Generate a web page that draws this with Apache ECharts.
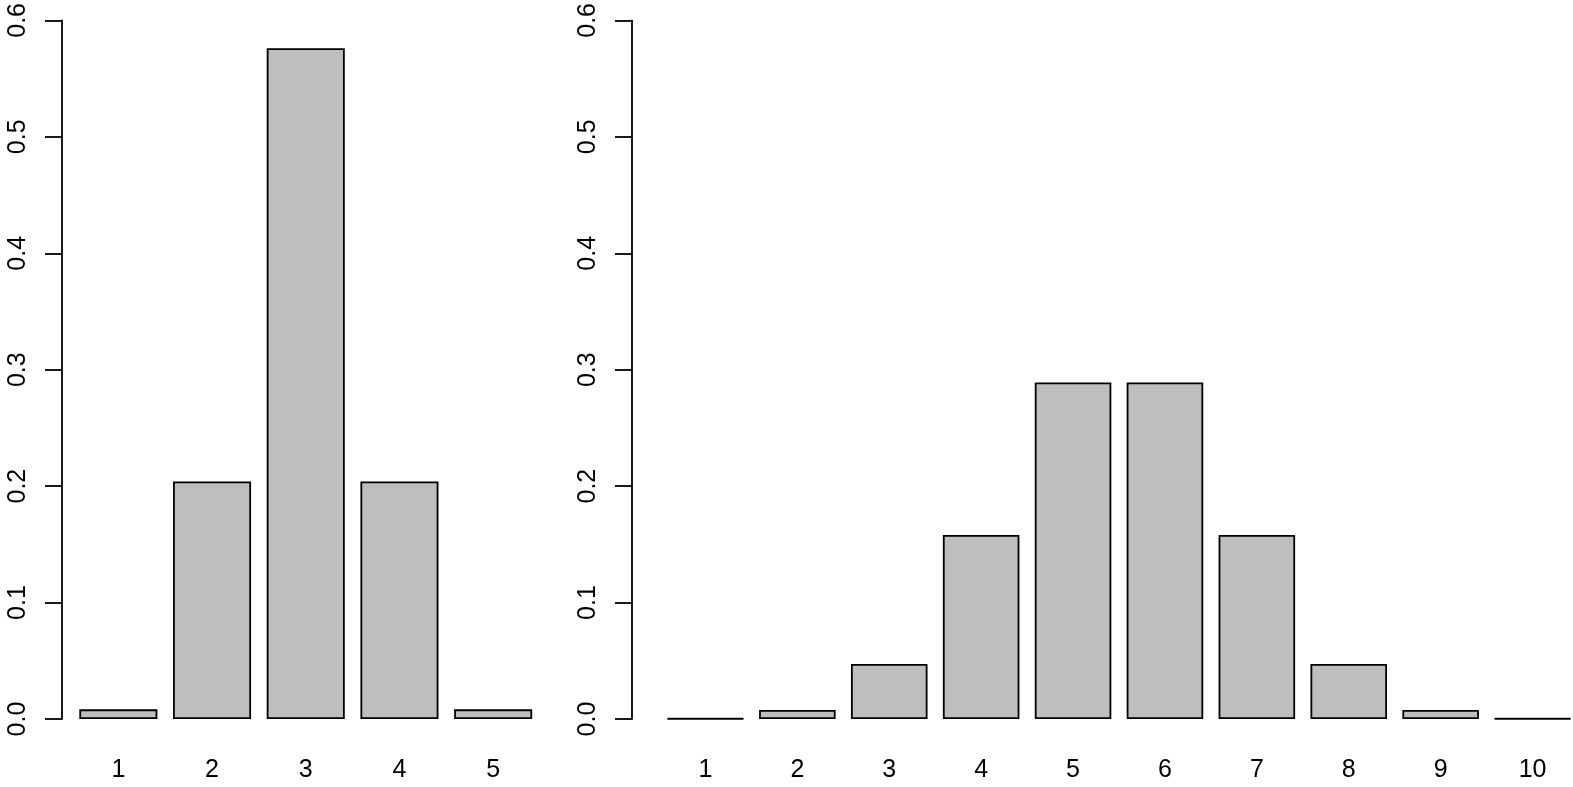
<!DOCTYPE html>
<html>
<head>
<meta charset="utf-8">
<script src="https://cdn.jsdelivr.net/npm/echarts@6/dist/echarts.min.js"></script>
<style>
  html, body { margin: 0; padding: 0; background: #fff; overflow: hidden; }
  #chart { width: 1580px; height: 787px; }
</style>
</head>
<body>
<div id="chart"></div>
<script>
// two barplots side by side, R base style
const leftCategories = ['1', '2', '3', '4', '5'];
const leftValues = [0.0083, 0.204, 0.576, 0.204, 0.0083];

const rightCategories = ['1', '2', '3', '4', '5', '6', '7', '8', '9', '10'];
const rightValues = [0.0004, 0.0077, 0.0473, 0.158, 0.289, 0.289, 0.158, 0.0473, 0.0077, 0.0004];

const yTicks = [0, 0.1, 0.2, 0.3, 0.4, 0.5, 0.6];

const font = 'Liberation Sans, Arial, sans-serif';

function xAxisFor(cats, gridIndex) {
    return {
        type: 'category',
        gridIndex: gridIndex,
        data: cats,
        boundaryGap: true,
        axisLine: { show: false },
        axisTick: { show: false },
        axisLabel: {
            color: '#000',
            fontSize: 25,
            fontFamily: font,
            margin: 39,
            interval: 0
        },
        splitLine: { show: false }
    };
}

function yAxisFor(gridIndex, offset) {
    return {
        type: 'value',
        gridIndex: gridIndex,
        min: yTicks[0],
        max: yTicks[yTicks.length - 1],
        interval: 0.1,
        offset: offset,
        axisLine: { show: true, lineStyle: { color: '#000', width: 1.8 } },
        axisTick: { show: true, length: 17, lineStyle: { color: '#000', width: 1.8 } },
        axisLabel: {
            color: '#000',
            fontSize: 25,
            fontFamily: font,
            rotate: 90,
            margin: 31,
            formatter: v => v.toFixed(1)
        },
        splitLine: { show: false }
    };
}

function barSeries(values, idx) {
    return {
        type: 'bar',
        xAxisIndex: idx,
        yAxisIndex: idx,
        data: values,
        barWidth: '83.3%',
        itemStyle: {
            color: '#bebebe',
            borderColor: '#000',
            borderWidth: 1.8
        },
        silent: true,
        animation: false
    };
}

const chart = echarts.init(document.getElementById('chart'));
chart.setOption({
    backgroundColor: '#fff',
    animation: false,
    grid: [
        { left: 71.5, top: 20, width: 468.5, height: 699 },
        { left: 659.5, top: 20, width: 919, height: 699 }
    ],
    xAxis: [xAxisFor(leftCategories, 0), xAxisFor(rightCategories, 1)],
    yAxis: [yAxisFor(0, 9.5), yAxisFor(1, 27.5)],
    series: [barSeries(leftValues, 0), barSeries(rightValues, 1)]
});
</script>
</body>
</html>
